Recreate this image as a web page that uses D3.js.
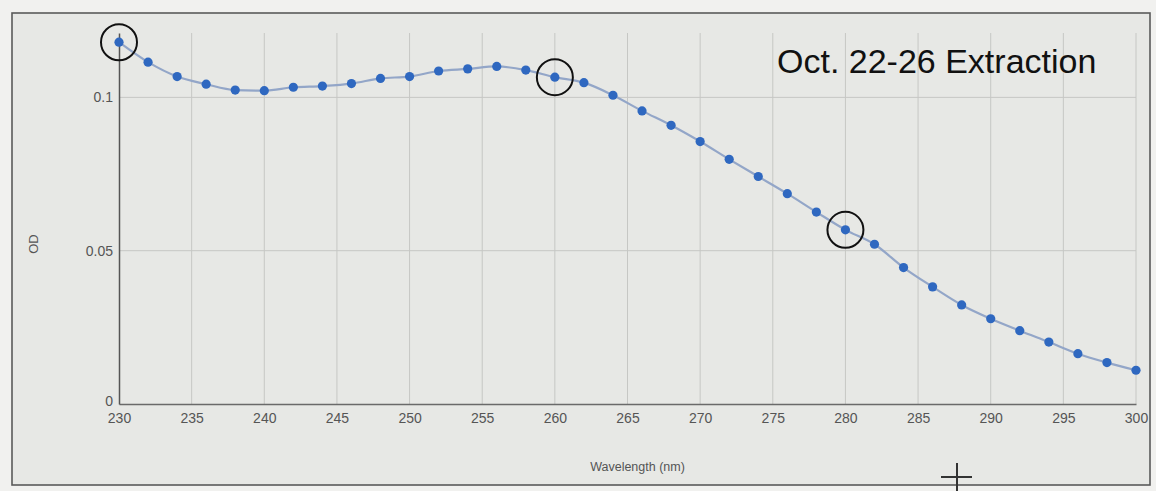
<!DOCTYPE html>
<html>
<head>
<meta charset="utf-8">
<script src="https://cdn.jsdelivr.net/npm/d3@7"></script>
<style>
  html, body { margin: 0; padding: 0; background: #f2f2f0; }
  svg { display: block; }
</style>
</head>
<body>
<svg id="chart" width="1156" height="491"></svg>
<script>
// ---- data ----
const wavelengths = [230,232,234,236,238,240,242,244,246,248,250,252,254,256,258,260,262,264,266,268,270,272,274,276,278,280,282,284,286,288,290,292,294,296,298,300];
const odValues = [0.1180,0.1115,0.1068,0.1043,0.1024,0.1022,0.1033,0.1037,0.1045,0.1062,0.1068,0.1086,0.1093,0.1101,0.1089,0.1066,0.1048,0.1007,0.0956,0.0909,0.0856,0.0798,0.0742,0.0686,0.0626,0.0568,0.0521,0.0445,0.0382,0.0323,0.0278,0.0239,0.0202,0.0164,0.0135,0.0110];
const xTicks = [230,235,240,245,250,255,260,265,270,275,280,285,290,295,300];
const yTicks = [0, 0.05, 0.1];
const yTickLabels = ["0", "0.05", "0.1"];
const circledWavelengths = [230, 260, 280];
const titleText = "Oct. 22-26 Extraction";
const xTitle = "Wavelength (nm)";
const yTitle = "OD";

// ---- layout ----
const svg = d3.select("#chart");
const plot = { left: 119, right: 1136, top: 33, bottom: 404 };

const x = d3.scaleLinear().domain([230, 300]).range([plot.left, plot.right]);
const y = d3.scaleLinear().domain([0, 0.121]).range([plot.bottom, plot.top]);

// background / frame
svg.append("rect").attr("x", 0).attr("y", 0).attr("width", 1156).attr("height", 491).attr("fill", "#f1f1ef");
svg.append("rect").attr("x", 12).attr("y", 13).attr("width", 1138).attr("height", 472)
  .attr("fill", "#e7e8e5").attr("stroke", "#5a5a5a").attr("stroke-width", 1.6);

// grid lines
const grid = svg.append("g").attr("stroke", "#c6c7c4").attr("stroke-width", 1);
grid.selectAll("line.v").data(xTicks.filter(d => d !== 230)).join("line")
  .attr("x1", d => x(d)).attr("x2", d => x(d))
  .attr("y1", plot.top).attr("y2", plot.bottom);
grid.selectAll("line.h").data(yTicks.filter(d => d !== 0)).join("line")
  .attr("x1", plot.left).attr("x2", plot.right)
  .attr("y1", d => y(d)).attr("y2", d => y(d));

// axes
const xAxis = d3.axisBottom(x).tickValues(xTicks).tickSize(0).tickPadding(9).tickFormat(d3.format("d"));
const gx = svg.append("g").attr("transform", `translate(0,${plot.bottom})`).call(xAxis);
gx.select(".domain").attr("stroke", "#6a6a6a").attr("stroke-width", 1.5);
gx.selectAll("text").attr("font-family", "Liberation Sans, Arial, sans-serif").attr("font-size", 14).attr("fill", "#555");

const yAxis = d3.axisLeft(y).tickValues(yTicks).tickSize(0).tickPadding(6)
  .tickFormat((d, i) => yTickLabels[i]);
const gy = svg.append("g").attr("transform", `translate(${plot.left},0)`).call(yAxis);
gy.select(".domain").attr("stroke", "#555").attr("stroke-width", 1.5);
gy.selectAll("text").attr("font-family", "Liberation Sans, Arial, sans-serif").attr("font-size", 14).attr("fill", "#555");
gy.selectAll(".tick").filter(d => d === 0).select("text").attr("dy", "0.1em");

// axis titles
svg.append("text").attr("x", (plot.left + plot.right) / 2 + 10).attr("y", 471)
  .attr("text-anchor", "middle").attr("font-family", "Liberation Sans, Arial, sans-serif")
  .attr("font-size", 12.5).attr("fill", "#555").text(xTitle);
svg.append("text").attr("transform", "translate(38,244) rotate(-90)")
  .attr("text-anchor", "middle").attr("font-family", "Liberation Sans, Arial, sans-serif")
  .attr("font-size", 13).attr("fill", "#555").text(yTitle);

// data line & points
const pts = wavelengths.map((w, i) => ({ w, v: odValues[i] }));
const line = d3.line().x(d => x(d.w)).y(d => y(d.v)).curve(d3.curveMonotoneX);
svg.append("path").datum(pts).attr("d", line)
  .attr("fill", "none").attr("stroke", "#93a6c8").attr("stroke-width", 2.2);
svg.append("g").selectAll("circle").data(pts).join("circle")
  .attr("cx", d => x(d.w)).attr("cy", d => y(d.v)).attr("r", 4.6)
  .attr("fill", "#2f68c0");

// annotation circles
svg.append("g").selectAll("circle").data(pts.filter(d => circledWavelengths.includes(d.w))).join("circle")
  .attr("cx", d => x(d.w)).attr("cy", d => y(d.v)).attr("r", 18)
  .attr("fill", "none").attr("stroke", "#111").attr("stroke-width", 2);

// title
svg.append("text").attr("x", 777).attr("y", 73)
  .attr("font-family", "Liberation Sans, Arial, sans-serif").attr("font-size", 34)
  .attr("fill", "#111").text(titleText);

// cursor cross
svg.append("path").attr("d", "M941,477 H972 M957,463 V491")
  .attr("stroke", "#333").attr("stroke-width", 2).attr("fill", "none");
</script>
</body>
</html>
